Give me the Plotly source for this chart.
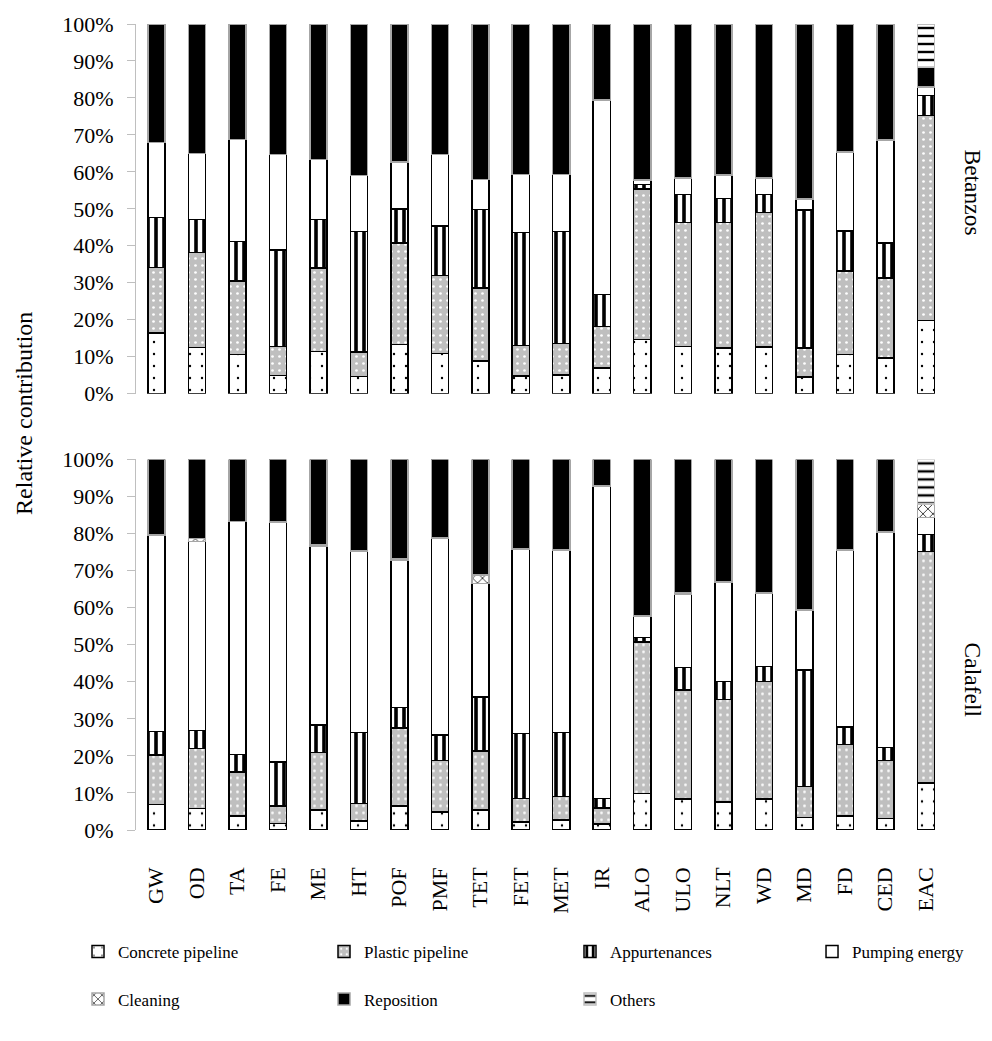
import plotly.graph_objects as go
from plotly.subplots import make_subplots

categories = ["GW", "OD", "TA", "FE", "ME", "HT", "POF", "PMF", "TET", "FET",
              "MET", "IR", "ALO", "ULO", "NLT", "WD", "MD", "FD", "CED", "EAC"]

# Betanzos (percent of total impact)
bet_concrete = [16.4, 12.5, 10.6, 4.9, 11.4, 4.7, 13.3, 10.8, 8.8, 4.8,
                5.1, 7.0, 14.6, 12.8, 12.4, 12.6, 4.5, 10.6, 9.7, 19.8]
bet_plastic = [17.7, 25.7, 19.9, 7.9, 22.6, 6.6, 27.5, 21.2, 19.8, 8.2,
               8.4, 11.2, 40.7, 33.5, 33.9, 36.4, 7.8, 22.6, 21.6, 55.5]
bet_appurt = [13.5, 8.9, 10.7, 26.0, 13.1, 32.6, 9.1, 13.3, 21.2, 30.6,
              30.3, 8.6, 1.3, 7.6, 6.5, 4.9, 37.4, 10.8, 9.4, 5.4]
bet_pumping = [20.4, 17.8, 27.5, 25.9, 16.2, 15.1, 12.8, 19.4, 8.1, 15.7,
               15.5, 52.7, 1.1, 4.4, 6.4, 4.4, 3.0, 21.4, 27.9, 2.2]
bet_cleaning = [0, 0, 0, 0, 0, 0, 0, 0, 0, 0,
                0, 0, 0.2, 0, 0, 0, 0, 0, 0, 0]
bet_reposition = [32.0, 35.1, 31.3, 35.3, 36.7, 41.0, 37.3, 35.3, 42.1, 40.7,
                  40.7, 20.5, 42.1, 41.7, 40.8, 41.7, 47.3, 34.6, 31.4, 5.4]
bet_others = [0, 0, 0, 0, 0, 0, 0, 0, 0, 0,
              0, 0, 0, 0, 0, 0, 0, 0, 0, 11.7]

# Calafell (percent of total impact)
cal_concrete = [6.9, 5.8, 3.8, 1.8, 5.4, 2.4, 6.5, 4.8, 5.4, 2.2,
                2.7, 1.6, 9.9, 8.3, 7.6, 8.3, 3.4, 3.8, 3.1, 12.7]
cal_plastic = [13.3, 16.2, 11.9, 4.7, 15.5, 4.8, 21.0, 14.0, 15.9, 6.3,
               6.3, 4.4, 40.8, 29.5, 27.6, 31.8, 8.3, 19.3, 15.6, 62.5]
cal_appurt = [6.4, 4.9, 4.7, 11.9, 7.4, 19.1, 5.5, 6.8, 14.6, 17.5,
              17.3, 2.5, 1.3, 6.1, 4.9, 4.0, 31.5, 4.7, 3.5, 4.6]
cal_pumping = [53.0, 50.9, 62.8, 64.6, 48.4, 49.0, 39.9, 53.1, 30.6, 49.8,
               49.2, 84.3, 5.8, 19.8, 26.7, 19.8, 16.0, 47.7, 58.2, 4.5]
cal_cleaning = [0.2, 0.9, 0.1, 0.1, 0.2, 0.1, 0.3, 0.2, 2.3, 0.1,
                0.1, 0.1, 0.1, 0.3, 0.2, 0.1, 0.1, 0.2, 0.1, 3.6]
cal_reposition = [20.2, 21.3, 16.7, 16.9, 23.1, 24.6, 26.8, 21.1, 31.2, 24.1,
                  24.4, 7.1, 42.1, 36.0, 33.0, 36.0, 40.7, 24.3, 19.5, 0]
cal_others = [0, 0, 0, 0, 0, 0, 0, 0, 0, 0,
              0, 0, 0, 0, 0, 0, 0, 0, 0, 12.1]

series_names = ["Concrete pipeline", "Plastic pipeline", "Appurtenances",
                "Pumping energy", "Cleaning", "Reposition", "Others"]
betanzos = [bet_concrete, bet_plastic, bet_appurt, bet_pumping,
            bet_cleaning, bet_reposition, bet_others]
calafell = [cal_concrete, cal_plastic, cal_appurt, cal_pumping,
            cal_cleaning, cal_reposition, cal_others]

FONT = "Liberation Serif"

# fill / pattern / outline for each component
styles = [
    dict(color="white", line="black",
         pattern=dict(shape=".", fgcolor="black", bgcolor="white", size=12, solidity=0.03)),
    dict(color="#bfbfbf", line="black",
         pattern=dict(shape=".", fgcolor="white", bgcolor="#bfbfbf", size=7, solidity=0.12)),
    dict(color="white", line="black",
         pattern=dict(shape="|", fgcolor="black", bgcolor="white", size=8, solidity=0.45)),
    dict(color="white", line="black", pattern=None),
    dict(color="white", line="#a6a6a6",
         pattern=dict(shape="x", fgcolor="black", bgcolor="white", size=7, solidity=0.2)),
    dict(color="black", line="#a6a6a6", pattern=None),
    dict(color="white", line="#bfbfbf",
         pattern=dict(shape="-", fgcolor="black", bgcolor="white", size=8, solidity=0.3)),
]
legend_of = ["legend", "legend", "legend", "legend3", "legend2", "legend2", "legend2"]

fig = make_subplots(rows=2, cols=1, shared_xaxes=True, vertical_spacing=0.08)

for row, panel in ((1, betanzos), (2, calafell)):
    for i, (name, vals) in enumerate(zip(series_names, panel)):
        st = styles[i]
        marker = dict(color=st["color"], line=dict(color=st["line"], width=1.5))
        if st["pattern"] is not None:
            marker["pattern"] = dict(st["pattern"], fillmode="replace")
        fig.add_trace(
            go.Bar(
                x=categories,
                y=[v if v > 0 else None for v in vals],
                name=name,
                marker=marker,
                width=0.42,
                legendgroup=name,
                showlegend=(row == 1),
                legend=legend_of[i],
            ),
            row=row, col=1,
        )

yaxis_style = dict(
    range=[0, 100], dtick=10, ticksuffix="%",
    showline=True, linecolor="#bfbfbf", linewidth=1,
    ticks="outside", ticklen=8, tickcolor="#bfbfbf",
    showgrid=False, zeroline=False,
    tickfont=dict(family=FONT, size=22, color="black"),
    ticklabelstandoff=9,
)
fig.update_yaxes(**yaxis_style)
fig.update_xaxes(showline=False, showgrid=False, zeroline=False, ticks="",
                 range=[-0.5, 19.5])
fig.update_xaxes(showticklabels=False, row=1, col=1)
fig.update_xaxes(tickangle=-90, ticklabelstandoff=32,
                 tickfont=dict(family=FONT, size=22, color="black"), row=2, col=1)

fig.update_layout(yaxis=dict(domain=[0.5414, 1.0]), yaxis2=dict(domain=[0.0, 0.4598]))

legend_common = dict(
    orientation="h", xanchor="left", yanchor="top",
    font=dict(family=FONT, size=17, color="black"),
    entrywidth=201, entrywidthmode="pixels",
    bgcolor="rgba(0,0,0,0)", traceorder="normal",
)
fig.update_layout(
    barmode="stack",
    width=992, height=1041,
    margin=dict(l=136, r=46, t=21, b=211),
    paper_bgcolor="white", plot_bgcolor="white",
    font=dict(family=FONT, size=20, color="black"),
    legend=dict(legend_common, x=-0.0716, y=-0.129),
    legend2=dict(legend_common, x=-0.0716, y=-0.188),
    legend3=dict(legend_common, x=0.8346, y=-0.129, entrywidth=110),
    annotations=[
        dict(text="Relative contribution", xref="paper", yref="paper",
             x=-0.139, y=0.5167, textangle=-90, showarrow=False,
             xanchor="center", yanchor="middle",
             font=dict(family=FONT, size=24, color="black")),
        dict(text="Betanzos", xref="paper", yref="paper",
             x=1.0333, y=0.791, textangle=90, showarrow=False,
             xanchor="center", yanchor="middle",
             font=dict(family=FONT, size=23.5, color="black")),
        dict(text="Calafell", xref="paper", yref="paper",
             x=1.0333, y=0.1854, textangle=90, showarrow=False,
             xanchor="center", yanchor="middle",
             font=dict(family=FONT, size=23.5, color="black")),
    ],
)

fig.write_html("out.html")
